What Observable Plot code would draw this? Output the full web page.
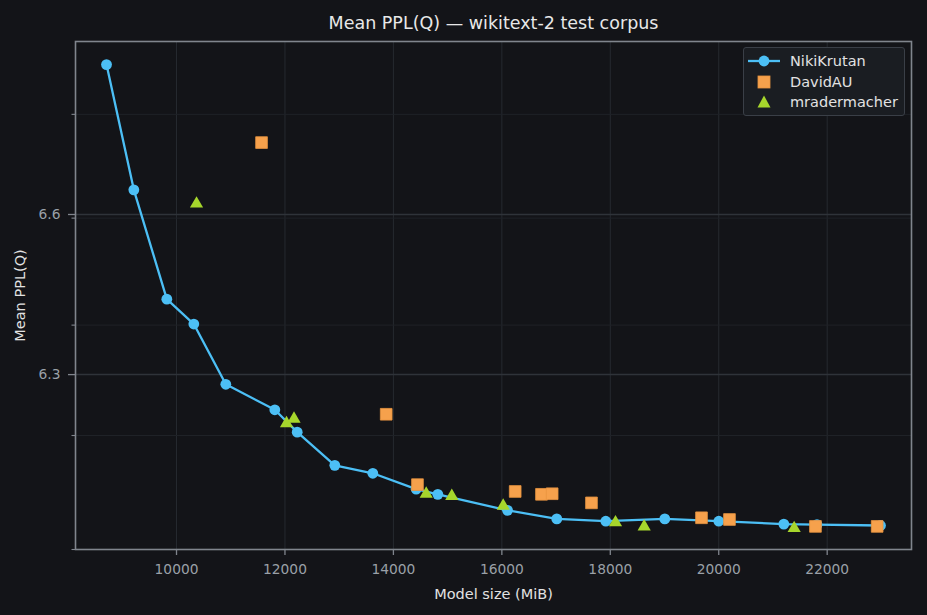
<!DOCTYPE html>
<html>
<head>
<meta charset="utf-8">
<script src="https://cdn.jsdelivr.net/npm/d3@7"></script>
<script src="https://cdn.jsdelivr.net/npm/@observablehq/plot@0.6"></script>
<style>
  html, body { margin: 0; padding: 0; background: #131418; }
  #wrap { position: relative; width: 927px; height: 615px; font-family: "DejaVu Sans", sans-serif; }
  #legend { position: absolute; left: 743px; top: 47px; width: 162px; height: 69px;
    border: 1.3px solid #3a3f47; border-radius: 3px; background: #1a1d22; box-sizing: border-box; }
  .row { position: absolute; left: 0; height: 20px; display: flex; align-items: center; }
  .row span { position: absolute; left: 46px; color: #e2e2e2; font-size: 14.5px; white-space: nowrap; }
  .row svg { position: absolute; left: 4px; }
</style>
</head>
<body>
<div id="wrap"></div>
<script>
const nikiX = [8709, 9213, 9821, 10319, 10909, 11813, 12226, 12919, 13620, 14420, 14819, 16104, 17013, 17917, 19005, 20001, 21200, 21812, 22983];
const nikiY = [6.898, 6.654, 6.448, 6.402, 6.292, 6.246, 6.206, 6.147, 6.133, 6.105, 6.096, 6.068, 6.053, 6.049, 6.053, 6.049, 6.044, 6.043, 6.0416];

const davidX = [11568, 13867, 14444, 16246, 16731, 16928, 17653, 19682, 20198, 21784, 22922];
const davidY = [6.745, 6.238, 6.113, 6.101, 6.096, 6.097, 6.081, 6.055, 6.052, 6.040, 6.040];

const mraderX = [10369, 12029, 12167, 14605, 15077, 16025, 18096, 18625, 21391];
const mraderY = [6.631, 6.225, 6.233, 6.100, 6.096, 6.079, 6.050, 6.043, 6.040];

const xTicks = [10000, 12000, 14000, 16000, 18000, 20000, 22000];
const yMajorTicks = [Math.pow(10, 0.80), Math.pow(10, 0.82)];
const yMinorTicks = [6.0, 6.2, 6.4, 6.6, 6.8];

const titleText = "Mean PPL(Q) — wikitext-2 test corpus";
const xLabel = "Model size (MiB)";
const yLabel = "Mean PPL(Q)";
const seriesNames = ["NikiKrutan", "DavidAU", "mradermacher"];

const niki = nikiX.map((x, i) => ({x, y: nikiY[i]}));
const david = davidX.map((x, i) => ({x, y: davidY[i]}));
const mrader = mraderX.map((x, i) => ({x, y: mraderY[i]}));

const cBlue = "#4cbff5", cOrange = "#f6a14c", cGreen = "#a6d62c";
const tickColor = "#9aa0a7", spine = "#80858d";

const chart = Plot.plot({
  width: 927,
  height: 615,
  marginLeft: 75,
  marginRight: 16,
  marginTop: 41,
  marginBottom: 66,
  style: { background: "#131418", fontFamily: "DejaVu Sans, sans-serif", fontSize: "13.8px", color: tickColor },
  x: { domain: [8137, 23555], axis: null },
  y: { type: "log", domain: [6.0, 6.944], axis: null },
  marks: [
    Plot.gridX({ ticks: xTicks, stroke: "#262a30", strokeOpacity: 1, strokeWidth: 1 }),
    Plot.gridY({ ticks: yMinorTicks, stroke: "#1f2227", strokeOpacity: 1, strokeWidth: 1 }),
    Plot.gridY({ ticks: yMajorTicks, stroke: "#2f3339", strokeOpacity: 1, strokeWidth: 1.5 }),
    Plot.axisX({ ticks: xTicks, tickFormat: d => String(d), tickSize: 6, tickPadding: 9, fontSize: 13.8, stroke: spine, strokeWidth: 1.3, fill: tickColor, label: null }),
    Plot.axisY({ ticks: yMinorTicks, tickFormat: () => "", tickSize: 3.5, stroke: spine, strokeWidth: 1.1, label: null }),
    Plot.axisY({ ticks: yMajorTicks, tickFormat: d => d.toFixed(1), tickSize: 7, tickPadding: 8, fontSize: 13.8, stroke: spine, strokeWidth: 1.3, fill: tickColor, label: null }),
    Plot.frame({ stroke: spine, strokeWidth: 1.6 }),
    Plot.line(niki, { x: "x", y: "y", stroke: cBlue, strokeWidth: 2.3 }),
    Plot.dot(niki, { x: "x", y: "y", r: 5.4, fill: cBlue, stroke: "none" }),
    Plot.dot(david, { x: "x", y: "y", symbol: "square", r: 6.6, fill: cOrange, stroke: "#e89440", strokeWidth: 0.8 }),
    Plot.dot(mrader, { x: "x", y: "y", symbol: "triangle", r: 4.9, dy: 1.9, fill: cGreen, stroke: "none" }),
    Plot.text([titleText], { frameAnchor: "top", dy: -18, fontSize: 17.5, fill: "#e8e8e8", textAnchor: "middle", lineAnchor: "middle" }),
    Plot.text([xLabel], { frameAnchor: "bottom", dy: 45, fontSize: 14.5, fill: "#e2e2e2", textAnchor: "middle", lineAnchor: "middle" }),
    Plot.text([yLabel], { frameAnchor: "left", dx: -55, rotate: -90, fontSize: 14.5, fill: "#e2e2e2", textAnchor: "middle", lineAnchor: "middle" })
  ]
});

const wrap = document.getElementById("wrap");
wrap.appendChild(chart);

const legend = document.createElement("div");
legend.id = "legend";
const symbols = [
  `<svg width="36" height="20"><line x1="0" y1="10" x2="32" y2="10" stroke="${cBlue}" stroke-width="2.3"/><circle cx="16" cy="10" r="5.4" fill="${cBlue}"/></svg>`,
  `<svg width="36" height="20"><rect x="10" y="4" width="12" height="12" fill="${cOrange}" stroke="#e89440" stroke-width="0.8"/></svg>`,
  `<svg width="36" height="20"><path d="M16,3.5 L22.5,15.5 L9.5,15.5 Z" fill="${cGreen}"/></svg>`
];
seriesNames.forEach((name, i) => {
  const row = document.createElement("div");
  row.className = "row";
  row.style.top = (3 + i * 20.5) + "px";
  row.innerHTML = symbols[i] + `<span>${name}</span>`;
  legend.appendChild(row);
});
wrap.appendChild(legend);
</script>
</body>
</html>
